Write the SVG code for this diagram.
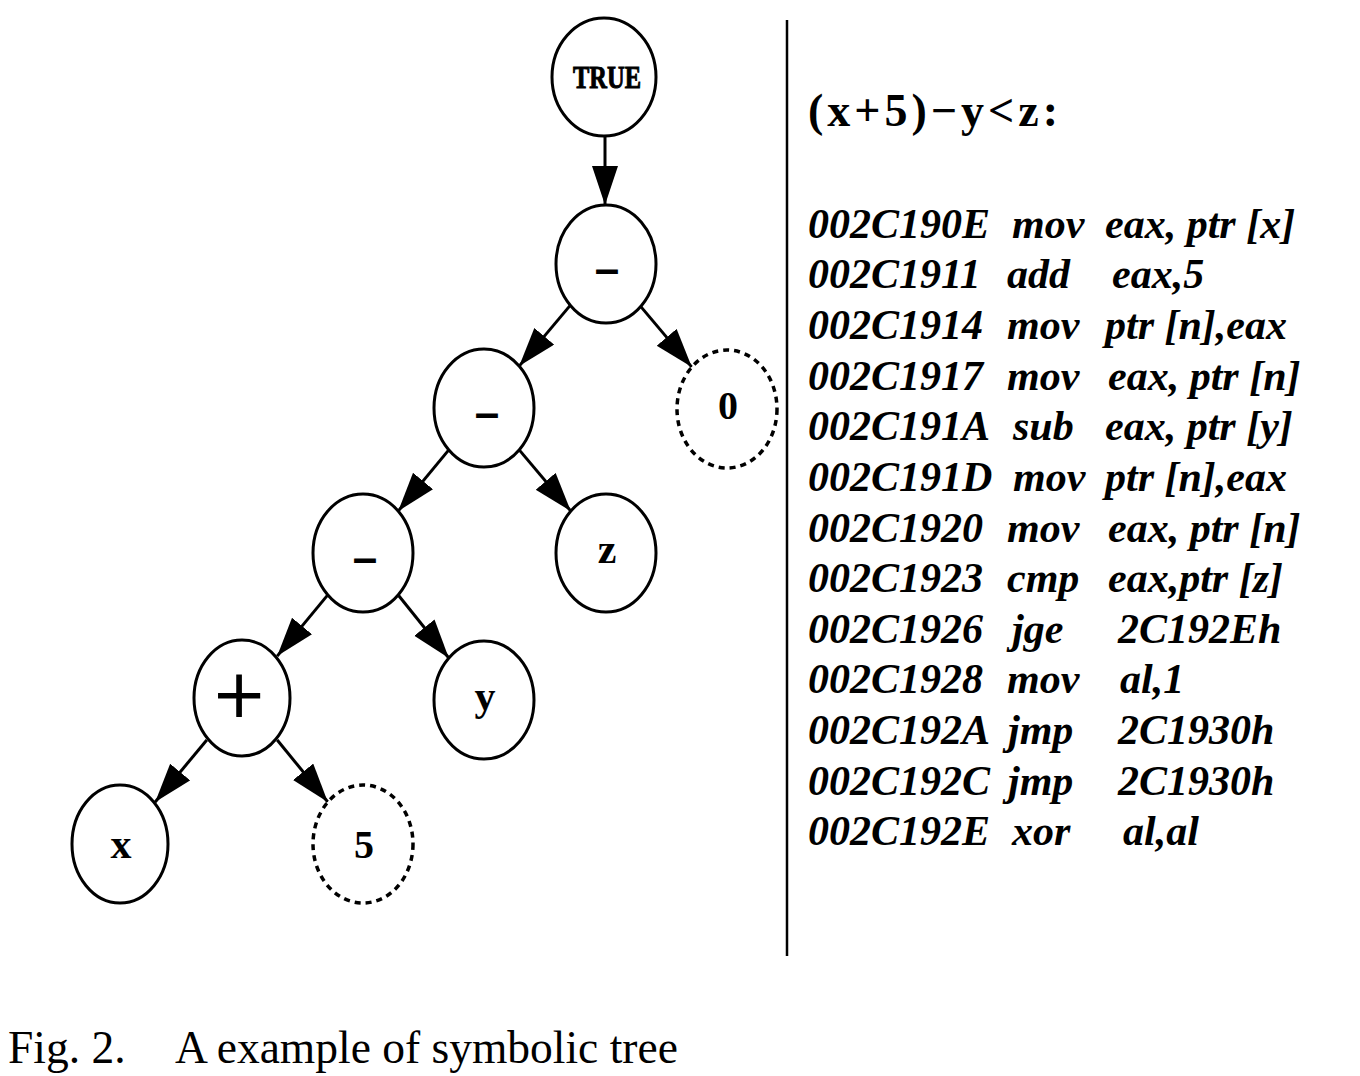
<svg xmlns="http://www.w3.org/2000/svg" width="1360" height="1076" viewBox="0 0 1360 1076">
<style>
.n{fill:#fff;stroke:#000;stroke-width:3}
.d{fill:#fff;stroke:#000;stroke-width:3.5;stroke-dasharray:6 5}
.lb{font-family:"Liberation Serif",serif;font-weight:bold;text-anchor:middle;fill:#000}
.mn{font-family:"Liberation Sans",sans-serif;font-weight:bold;text-anchor:middle;fill:#000;font-size:44px}
.e{stroke:#000;stroke-width:3;fill:none;marker-end:url(#ah)}
.code{font-family:"Liberation Serif",serif;font-weight:bold;font-style:italic;font-size:42px;fill:#000}
.cap{font-family:"Liberation Serif",serif;font-size:45.5px;fill:#000}
</style>
<defs>
<marker id="ah" markerUnits="userSpaceOnUse" markerWidth="42" markerHeight="28" refX="39" refY="13" orient="auto" viewBox="0 0 42 28">
<path d="M0,0 L39,13 L0,26 Z" fill="#000"/>
</marker>
</defs>
<rect width="1360" height="1076" fill="#fff"/>
<g id="connectors">
<path class="e" d="M605,136 L605,205"/>
<path class="e" d="M569.8,305.9 L519.2,366.1"/>
<path class="e" d="M640.2,305.9 L691.8,367.1"/>
<path class="e" d="M448.8,449.9 L398.2,511.1"/>
<path class="e" d="M519.2,449.9 L570.8,511.1"/>
<path class="e" d="M327.8,594.9 L277.2,656.1"/>
<path class="e" d="M398.2,595 L448.8,658"/>
<path class="e" d="M206.8,740 L155.2,802"/>
<path class="e" d="M277.2,740 L327.8,802"/>
</g>
<g id="node-true"><ellipse class="n" cx="604" cy="77" rx="52" ry="59"/><text class="lb" x="607" y="88" font-size="31" textLength="68" lengthAdjust="spacingAndGlyphs" stroke="#000" stroke-width="1">TRUE</text></g>
<g id="node-minus1"><ellipse class="n" cx="606" cy="264" rx="50" ry="59"/><text class="mn" x="607" y="284">–</text></g>
<g id="node-minus2"><ellipse class="n" cx="484" cy="408" rx="50" ry="59"/><text class="mn" x="487" y="428">–</text></g>
<g id="node-zero"><ellipse class="d" cx="727" cy="409" rx="50" ry="59"/><text class="lb" x="728" y="419" font-size="40">0</text></g>
<g id="node-minus3"><ellipse class="n" cx="363" cy="553" rx="50" ry="59"/><text class="mn" x="365" y="573">–</text></g>
<g id="node-z"><ellipse class="n" cx="606" cy="553" rx="50" ry="59"/><text class="lb" x="607" y="563" font-size="42">z</text></g>
<g id="node-plus"><ellipse class="n" cx="242" cy="698" rx="48" ry="58"/><text x="239" y="725" font-family="Liberation Serif,serif" font-size="88" text-anchor="middle" fill="#000" stroke="#000" stroke-width="1.2">+</text></g>
<g id="node-y"><ellipse class="n" cx="484" cy="700" rx="50" ry="59"/><text class="lb" x="485" y="710" font-size="42">y</text></g>
<g id="node-x"><ellipse class="n" cx="120" cy="844" rx="48" ry="59"/><text class="lb" x="121" y="858" font-size="42">x</text></g>
<g id="node-five"><ellipse class="d" cx="363" cy="844" rx="50" ry="59"/><text class="lb" x="364" y="858" font-size="40" font-weight="normal">5</text></g>
<line x1="787" y1="20" x2="787" y2="956" stroke="#000" stroke-width="2.5"/>
<text x="808" y="126" font-family="Liberation Serif,serif" font-weight="bold" font-size="46" textLength="250" lengthAdjust="spacing" fill="#000">(x+5)−y&lt;z:</text>
<g id="code" class="code">
<text x="808" y="238">002C190E</text><text x="1012" y="238">mov</text><text x="1105" y="238">eax, ptr [x]</text>
<text x="808" y="288">002C1911</text><text x="1007" y="288">add</text><text x="1112" y="288">eax,5</text>
<text x="808" y="339">002C1914</text><text x="1007" y="339">mov</text><text x="1105" y="339">ptr [n],eax</text>
<text x="808" y="390">002C1917</text><text x="1007" y="390">mov</text><text x="1108" y="390">eax, ptr [n]</text>
<text x="808" y="440">002C191A</text><text x="1013" y="440">sub</text><text x="1105" y="440">eax, ptr [y]</text>
<text x="808" y="491">002C191D</text><text x="1013" y="491">mov</text><text x="1105" y="491">ptr [n],eax</text>
<text x="808" y="542">002C1920</text><text x="1007" y="542">mov</text><text x="1108" y="542">eax, ptr [n]</text>
<text x="808" y="592">002C1923</text><text x="1007" y="592">cmp</text><text x="1108" y="592">eax,ptr [z]</text>
<text x="808" y="643">002C1926</text><text x="1012" y="643">jge</text><text x="1118" y="643">2C192Eh</text>
<text x="808" y="693">002C1928</text><text x="1007" y="693">mov</text><text x="1120" y="693">al,1</text>
<text x="808" y="744">002C192A</text><text x="1008" y="744">jmp</text><text x="1118" y="744">2C1930h</text>
<text x="808" y="795">002C192C</text><text x="1008" y="795">jmp</text><text x="1118" y="795">2C1930h</text>
<text x="808" y="845">002C192E</text><text x="1012" y="845">xor</text><text x="1123" y="845">al,al</text>
</g>
<text class="cap" x="8" y="1063">Fig. 2.</text>
<text class="cap" x="175" y="1063">A example of symbolic tree</text>
</svg>
